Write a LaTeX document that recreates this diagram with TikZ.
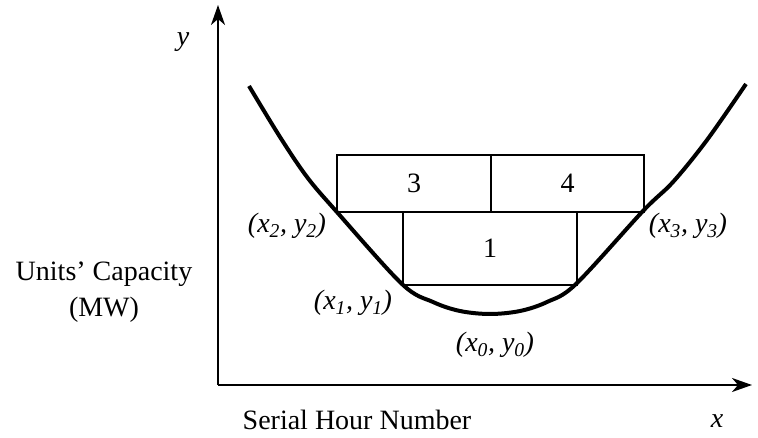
\documentclass[tikz,border=0pt]{standalone}
\usepackage{fontspec}
\setmainfont{Liberation Serif}
\usetikzlibrary{arrows.meta}
\newcommand{\ptlab}[1]{\textit{(x\textsubscript{#1}, y\textsubscript{#1})}}
\begin{document}
\begin{tikzpicture}[x=1pt,y=-1pt,
  every node/.style={font=\fontsize{28}{36}\selectfont},
  axis/.style={line width=2pt,-{Stealth[length=20pt,width=14pt,inset=6pt]}},
  curve/.style={line width=4pt},
  blockbox/.style={draw,line width=2pt,inner sep=0pt,anchor=north west}]
\useasboundingbox (0,0) rectangle (758,438);
% axes
\coordinate (O) at (218,385);
\coordinate (ytip) at (218,5);
\coordinate (xtip) at (752,385);
\draw[axis] (O) -- (ytip);
\draw[axis] (O) -- (xtip);
% blocks
\node[blockbox,minimum width=154pt,minimum height=57pt] (b3) at (336,154) {};
\node[blockbox,minimum width=153pt,minimum height=57pt] (b4) at (490,154) {};
\node[blockbox,minimum width=174pt,minimum height=73pt] (b1) at (402,211) {};
\node at (b3.center) {3};
\node at (b4.center) {4};
\node at (b1.center) {1};
% curve
\draw[curve] plot[smooth,tension=0.55] coordinates {(249,86) (280,137) (307,177) (336,211) (402,284) (433,302) (460,311) (490,314) (520,311) (547,302) (576,284) (643,211) (673,182) (707,140) (746,84)};
% labels
\node (p2) at (287,226) {\ptlab{2}};
\node (p3) at (688,226) {\ptlab{3}};
\node (p1) at (353,303) {\ptlab{1}};
\node (p0) at (495,345) {\ptlab{0}};
\node (ylab) at (183,42) {\textit{y}};
\node (xlab) at (717,421) {\textit{x}};
\node[align=center] (cap) at (104,292) {Units’ Capacity\\(MW)};
\node (ser) at (357,420) {Serial Hour Number};
\end{tikzpicture}
\end{document}
